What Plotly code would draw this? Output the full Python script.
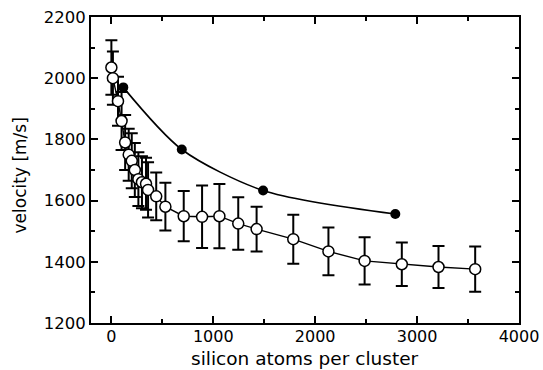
import plotly.graph_objects as go

# open circles (with error bars)
open_x = [0, 15, 65, 100, 135, 170, 200, 230, 265, 300, 340, 360, 440, 530,
          710, 890, 1060, 1245, 1425, 1785, 2130, 2485, 2850, 3210, 3570]
open_y = [2035, 2000, 1925, 1860, 1790, 1750, 1730, 1700, 1670, 1660, 1655, 1635,
          1614, 1580, 1549, 1547, 1549, 1525, 1507, 1474, 1434, 1403, 1392, 1383, 1376]
open_err = [89, 87, 80, 95, 90, 85, 90, 88, 88, 85, 85, 90, 78, 78,
            82, 102, 105, 86, 73, 80, 78, 77, 71, 69, 74]

# filled circles
fill_x = [117, 691, 1489, 2786]
fill_y = [1970, 1767, 1633, 1556]

x_ticks = [0, 1000, 2000, 3000, 4000]
y_ticks = [1200, 1400, 1600, 1800, 2000, 2200]

x_title = "silicon atoms per cluster"
y_title = "velocity [m/s]"

FONT = "DejaVu Sans, Arial, sans-serif"

fig = go.Figure()
fig.add_trace(go.Scatter(
    x=fill_x, y=fill_y, mode="lines+markers",
    line=dict(color="black", width=1.6, shape="spline", smoothing=0.8),
    marker=dict(symbol="circle", size=10, color="black"),
    showlegend=False))
fig.add_trace(go.Scatter(
    x=open_x, y=open_y, mode="lines+markers",
    line=dict(color="black", width=1.4),
    marker=dict(symbol="circle", size=11, color="white",
                line=dict(color="black", width=1.5)),
    error_y=dict(type="data", array=open_err, visible=True,
                 color="black", thickness=2, width=6),
    showlegend=False))

axis_common = dict(
    showline=True, linecolor="black", linewidth=1.8, mirror="ticks",
    ticks="inside", ticklen=7, tickwidth=1.5, tickcolor="black",
    showgrid=False, zeroline=False, automargin=False,
)

fig.update_layout(
    width=543, height=370,
    margin=dict(l=91, r=24, t=17, b=47),
    paper_bgcolor="white", plot_bgcolor="white",
    xaxis=dict(range=[-200, 4000], tickvals=x_ticks,
               ticktext=[str(v) for v in x_ticks],
               minor=dict(dtick=500, tick0=0, ticks="inside", ticklen=4,
                          tickwidth=1.5, tickcolor="black"),
               ticklabelstandoff=-2,
               tickfont=dict(family=FONT, size=16, color="black"),
               **axis_common),
    yaxis=dict(range=[1200, 2200], tickvals=y_ticks,
               ticktext=[str(v) for v in y_ticks],
               minor=dict(dtick=100, tick0=1200, ticks="inside", ticklen=4,
                          tickwidth=1.5, tickcolor="black"),
               tickfont=dict(family=FONT, size=16.5, color="black"),
               **axis_common),
    annotations=[
        dict(text=x_title, xref="paper", yref="paper", x=0.5, y=-0.155,
             xanchor="center", yanchor="bottom", showarrow=False, borderpad=0,
             font=dict(family=FONT, size=18.5, color="black")),
        dict(text=y_title, xref="paper", yref="paper", x=-0.166, y=0.482,
             xanchor="center", yanchor="middle", showarrow=False, textangle=-90,
             font=dict(family=FONT, size=17, color="black")),
    ],
)

fig.write_html("out.html")
